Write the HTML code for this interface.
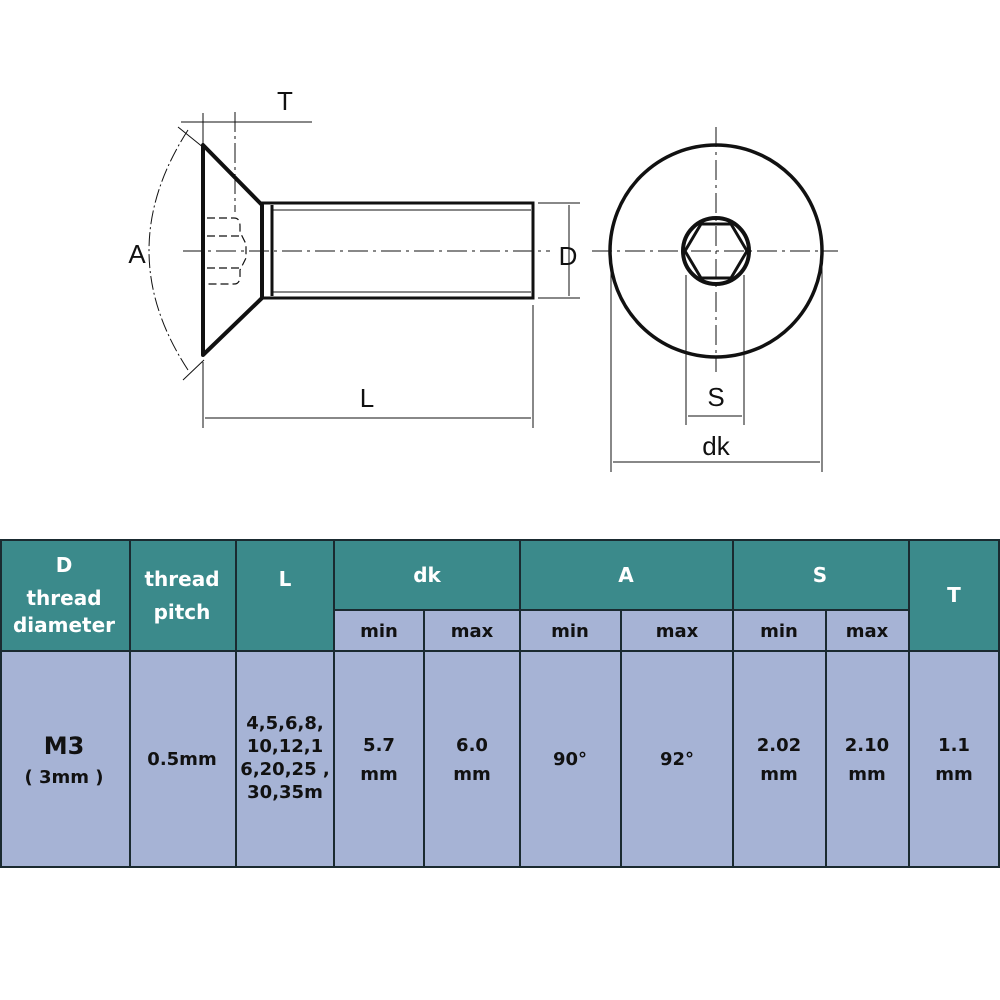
<!DOCTYPE html>
<html><head><meta charset="utf-8"><style>
html,body{margin:0;padding:0;background:#fff;width:1000px;height:1000px;overflow:hidden}
svg{display:block}
.h{font-family:"DejaVu Sans","Liberation Sans",sans-serif;font-weight:bold;fill:#fff;font-size:20px;text-anchor:middle}
.s{font-family:"DejaVu Sans","Liberation Sans",sans-serif;font-weight:bold;fill:#111;font-size:18px;text-anchor:middle}
.d{font-family:"Liberation Sans",sans-serif;fill:#111;font-size:26px;text-anchor:middle}
</style></head><body>
<svg width="1000" height="1000" viewBox="0 0 1000 1000">
<g fill="none" stroke="#111">
 <path d="M203 145 L203 355 L262 298 L262 205 Z" stroke-width="4" stroke-linejoin="round"/>
 <rect x="262" y="203" width="271" height="95" stroke-width="3"/>
 <line x1="272" y1="205" x2="272" y2="296" stroke-width="3"/>
 <line x1="272" y1="210" x2="531" y2="210" stroke-width="1"/>
 <line x1="272" y1="292" x2="531" y2="292" stroke-width="1"/>
 <path d="M207 218 h27 q6 0 6 8 v6 l6 12 v14 l-6 12 v6 q0 8 -6 8 h-27" stroke-width="1.2" stroke-dasharray="8 4"/>
 <line x1="207" y1="236" x2="240" y2="236" stroke-width="1.2" stroke-dasharray="8 4"/>
 <line x1="207" y1="268" x2="240" y2="268" stroke-width="1.2" stroke-dasharray="8 4"/>
 <line x1="183" y1="251" x2="550" y2="251" stroke-width="1" stroke-dasharray="20 5 3 5"/>
 <line x1="203" y1="113" x2="203" y2="145" stroke-width="1"/>
 <line x1="235" y1="112" x2="235" y2="212" stroke-width="1" stroke-dasharray="20 4 3 4"/>
 <line x1="181" y1="122" x2="312" y2="122" stroke-width="1"/>
 <path d="M188 130 Q110 251 188 370" stroke-width="1" stroke-dasharray="14 3 2 3"/>
 <line x1="178" y1="127" x2="204" y2="148" stroke-width="1"/>
 <line x1="183" y1="380" x2="204" y2="360" stroke-width="1"/>
 <line x1="203" y1="362" x2="203" y2="428" stroke-width="1"/>
 <line x1="533" y1="305" x2="533" y2="428" stroke-width="1"/>
 <line x1="205" y1="418" x2="531" y2="418" stroke-width="1"/>
 <line x1="538" y1="203" x2="580" y2="203" stroke-width="1"/>
 <line x1="538" y1="298" x2="580" y2="298" stroke-width="1"/>
 <line x1="569" y1="205" x2="569" y2="296" stroke-width="1"/>
 <circle cx="716" cy="251" r="106" stroke-width="3.5"/>
 <polygon points="747,251 731,278 701,278 685,251 701,224 731,224" stroke-width="3"/>
 <circle cx="716" cy="251" r="33" stroke-width="4"/>
 <line x1="592" y1="251" x2="838" y2="251" stroke-width="1" stroke-dasharray="20 5 3 5"/>
 <line x1="716" y1="127" x2="716" y2="372" stroke-width="1" stroke-dasharray="20 5 3 5"/>
 <line x1="686" y1="275" x2="686" y2="425" stroke-width="1"/>
 <line x1="744" y1="275" x2="744" y2="425" stroke-width="1"/>
 <line x1="688" y1="416" x2="742" y2="416" stroke-width="1"/>
 <line x1="611" y1="260" x2="611" y2="472" stroke-width="1"/>
 <line x1="822" y1="260" x2="822" y2="472" stroke-width="1"/>
 <line x1="613" y1="462" x2="820" y2="462" stroke-width="1"/>
</g>
<text class="d" x="285" y="110">T</text>
<text class="d" x="137" y="263">A</text>
<text class="d" x="367" y="407">L</text>
<text class="d" x="568" y="265">D</text>
<text class="d" x="716" y="406">S</text>
<text class="d" x="716" y="455">dk</text>
<rect x="0" y="540" width="999" height="327" fill="#a6b3d5"/>
<rect x="0" y="540" width="334" height="111" fill="#3b8a8b"/>
<rect x="334" y="540" width="575" height="70" fill="#3b8a8b"/>
<rect x="909" y="540" width="90" height="111" fill="#3b8a8b"/>
<g stroke="#1a2a30" stroke-width="2" fill="none">
 <rect x="1" y="540" width="998" height="327"/>
 <line x1="0" y1="651" x2="1000" y2="651"/>
 <line x1="334" y1="610" x2="909" y2="610"/>
 <line x1="130" y1="540" x2="130" y2="867"/>
 <line x1="236" y1="540" x2="236" y2="867"/>
 <line x1="334" y1="540" x2="334" y2="867"/>
 <line x1="520" y1="540" x2="520" y2="867"/>
 <line x1="733" y1="540" x2="733" y2="867"/>
 <line x1="909" y1="540" x2="909" y2="867"/>
 <line x1="424" y1="610" x2="424" y2="867"/>
 <line x1="621" y1="610" x2="621" y2="867"/>
 <line x1="826" y1="610" x2="826" y2="867"/>
</g>
<text class="h" x="64" y="572">D</text>
<text class="h" x="64" y="605">thread</text>
<text class="h" x="64" y="632">diameter</text>
<text class="h" x="182" y="586">thread</text>
<text class="h" x="182" y="619">pitch</text>
<text class="h" x="285" y="586">L</text>
<text class="h" x="427" y="582">dk</text>
<text class="h" x="626" y="582">A</text>
<text class="h" x="820" y="582">S</text>
<text class="h" x="954" y="602">T</text>
<text class="s" x="379" y="637">min</text><text class="s" x="472" y="637">max</text>
<text class="s" x="570" y="637">min</text><text class="s" x="677" y="637">max</text>
<text class="s" x="779" y="637">min</text><text class="s" x="867" y="637">max</text>
<text class="s" x="64" y="754" style="font-size:24px">M3</text>
<text class="s" x="64" y="783">( 3mm )</text>
<text class="s" x="182" y="765">0.5mm</text>
<text class="s" x="285" y="729">4,5,6,8,</text>
<text class="s" x="285" y="752">10,12,1</text>
<text class="s" x="285" y="775">6,20,25 ,</text>
<text class="s" x="285" y="798">30,35m</text>
<text class="s" x="379" y="751">5.7</text><text class="s" x="379" y="780">mm</text>
<text class="s" x="472" y="751">6.0</text><text class="s" x="472" y="780">mm</text>
<text class="s" x="570" y="765">90°</text><text class="s" x="677" y="765">92°</text>
<text class="s" x="779" y="751">2.02</text><text class="s" x="779" y="780">mm</text>
<text class="s" x="867" y="751">2.10</text><text class="s" x="867" y="780">mm</text>
<text class="s" x="954" y="751">1.1</text><text class="s" x="954" y="780">mm</text>
</svg>
</body></html>
